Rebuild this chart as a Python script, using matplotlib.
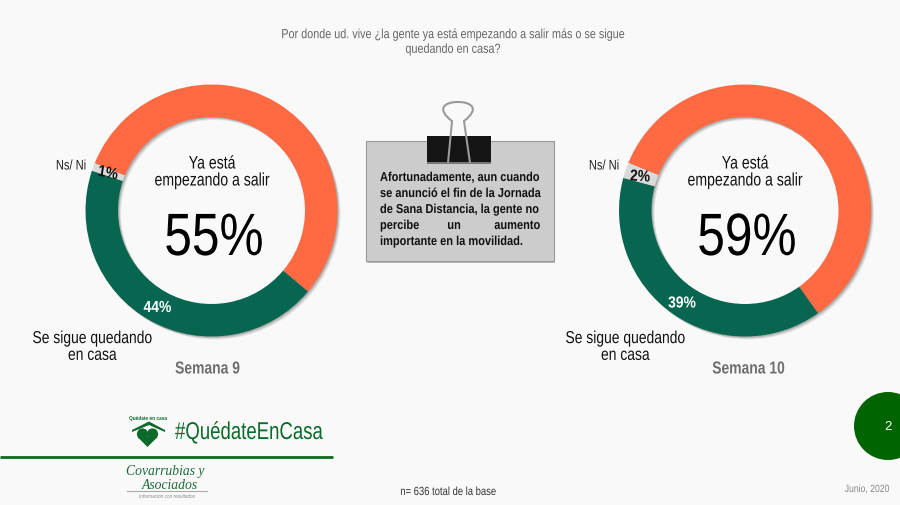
import matplotlib
matplotlib.use('Agg')
import matplotlib.pyplot as plt
from matplotlib.patches import Rectangle, Circle, Polygon, PathPatch
from matplotlib.path import Path
from matplotlib.patheffects import AbstractPathEffect
from matplotlib.transforms import Affine2D

plt.rcParams['font.family'] = ['Liberation Sans', 'DejaVu Sans']

# Data
semana_9 = [55, 44, 1]
semana_10 = [59, 39, 2]
colors = ['#ff6a42', '#06664f', '#dadada']
main_label = 'Ya está\nempezando a salir'
stay_label = 'Se sigue quedando\nen casa'
other_label = 'Ns/ Ni'
question = 'Por donde ud. vive ¿la gente ya está empezando a salir más o se sigue\nquedando en casa?'
note_lines = ['Afortunadamente, aun cuando', 'se anunció el fin de la Jornada',
              'de Sana Distancia, la gente no', 'importante en la movilidad.']

W, H = 900, 506
BG = '#f9f9f9'
fig = plt.figure(figsize=(9, 5.06), dpi=100, facecolor=BG)

# overlay in pixel coordinates of the slide
ov = fig.add_axes([0, 0, 1, 1], zorder=5)
ov.set_xlim(0, W)
ov.set_ylim(H, 0)
ov.axis('off')
ov.patch.set_alpha(0)


# the slide uses a condensed Arial, so squeeze the glyphs around the anchor
class Squeeze(AbstractPathEffect):
    def __init__(self, sx, x0):
        super().__init__()
        self.sx = sx
        self.x0 = x0

    def draw_path(self, renderer, gc, tpath, affine, rgbFace=None):
        squeeze = Affine2D().translate(-self.x0, 0).scale(self.sx, 1).translate(self.x0, 0)
        renderer.draw_path(gc, tpath, affine + squeeze, rgbFace)


def txt(x, y, s, sx=0.8, **kw):
    kw.setdefault('ha', 'center')
    kw.setdefault('va', 'center')
    t = ov.text(x, y, s, **kw)
    t.set_path_effects([Squeeze(sx, ov.transData.transform((x, y))[0])])
    return t


def donut(cx, cy, values, start, text_x, week, week_x):
    r = 126
    pad = 8
    box = r + pad
    ax = fig.add_axes([(cx - box) / W, 1 - (cy + box) / H, 2 * box / W, 2 * box / H], zorder=2)
    # soft shadow below and to the right of the ring
    for off, alpha in [(3.0, 0.12), (2.0, 0.2), (1.0, 0.25)]:
        ax.pie(values, colors=['#555555'] * 3, startangle=start, counterclock=False, radius=1,
               center=(off / r, -off / r), wedgeprops=dict(width=0.258, linewidth=0, alpha=alpha))
    ax.pie(values, colors=colors, startangle=start, counterclock=False, radius=1,
           wedgeprops=dict(width=0.258, linewidth=0))
    ax.set_xlim(-box / r, box / r)
    ax.set_ylim(-box / r, box / r)
    # labels
    txt(text_x - 2, cy - 38, main_label, sx=0.78, fontsize=13, color='#111111', linespacing=1.0)
    txt(text_x, cy + 29, '%d%%' % values[0], sx=0.83, fontsize=43, color='#000000')
    txt(week_x, 370, week, fontsize=12.5, color='#6e6e6e', fontweight='bold')


donut(211.5, 211.5, semana_9, 158, 214, 'Semana 9', 207.5)
donut(745, 211.5, semana_10, 157.8, 747, 'Semana 10', 748.5)

txt(71, 166.5, other_label, fontsize=10, color='#222222')
txt(604, 166.5, other_label, fontsize=10, color='#222222')
txt(108, 174, '1%', sx=0.87, fontsize=11.5, color='#111111', fontweight='bold', rotation=-10)
txt(640, 177.5, '2%', sx=0.87, fontsize=11.5, color='#111111', fontweight='bold', rotation=-3)
txt(157.5, 308.5, '44%', sx=0.87, fontsize=11.5, color='white', fontweight='bold')
txt(682, 304, '39%', sx=0.87, fontsize=11.5, color='white', fontweight='bold')
txt(92.5, 348, stay_label, fontsize=12.5, color='#111111', linespacing=1.15)
txt(625.5, 348, stay_label, fontsize=12.5, color='#111111', linespacing=1.15)

txt(453, 43.5, question, sx=0.82, fontsize=9.5, color='#666666', linespacing=1.3)

# note card
ov.add_patch(Rectangle((367, 143), 188, 121, fc='#888888', ec='none', alpha=0.6))
ov.add_patch(Rectangle((366, 141.5), 188, 120.5, fc='#cccccc', ec='#9a9a9a', lw=0.8))
note_ys = [179, 195, 211, 243]
for s, y in zip(note_lines, note_ys):
    txt(380, y, s, sx=0.855, ha='left', fontsize=9.3, color='#111111', fontweight='bold')
txt(380, 227, 'percibe', sx=0.855, ha='left', fontsize=9.3, color='#111111', fontweight='bold')
txt(454, 227, 'un', sx=0.855, fontsize=9.3, color='#111111', fontweight='bold')
txt(540, 227, 'aumento', sx=0.855, ha='right', fontsize=9.3, color='#111111', fontweight='bold')

# binder clip
ov.add_patch(Rectangle((427, 137), 63.5, 27, fc='#141414', ec='none'))
ov.add_patch(Rectangle((427, 163), 63.5, 2, fc='#777777', ec='none'))
wire = Path([(448, 164), (452, 122), (436, 110), (444, 103), (458, 103), (472, 103), (480, 110),
             (464, 122), (470, 164)],
            [Path.MOVETO, Path.LINETO, Path.CURVE4, Path.CURVE4, Path.CURVE4, Path.CURVE4, Path.CURVE4,
             Path.CURVE4, Path.LINETO])
ov.add_patch(PathPatch(wire, fc='none', ec='#9a9a9a', lw=1.5))

# hashtag block
DG = '#0a6a2a'
txt(175, 434, '#QuédateEnCasa', sx=0.765, ha='left', fontsize=17.5, color=DG)
ov.text(148, 419, 'Quédate en casa', ha='center', va='center', fontsize=3.4, color=DG, fontweight='bold')
ov.add_patch(Polygon([(132, 431), (149, 422.5), (165, 431), (165, 433), (149, 426), (132, 433)], fc=DG, ec='none'))
ov.add_patch(Circle((142.5, 435), 5.6, fc=DG, ec='none'))
ov.add_patch(Circle((152.5, 435), 5.6, fc=DG, ec='none'))
ov.add_patch(Polygon([(137.5, 438), (157.5, 438), (147.5, 448)], fc=DG, ec='none'))
ov.plot([0, 333], [457.5, 457.5], color='#0b6b1e', lw=2, solid_capstyle='butt')

# Covarrubias logo
LG = '#1d6b3c'
ov.text(126, 471.5, 'Covarrubias y', ha='left', va='center', fontsize=9.8, color=LG, family='Liberation Serif', style='italic')
ov.text(142, 485.5, 'Asociados', ha='left', va='center', fontsize=9.8, color=LG, family='Liberation Serif', style='italic')
ov.plot([127, 207], [492, 492], color='#aaaaaa', lw=0.8)
ov.text(167, 497, 'Información con resultados', ha='center', va='center', fontsize=3.3, color='#888888', style='italic')

txt(448, 493, 'n= 636 total de la base', fontsize=8.5, color='#333333')
txt(867, 490, 'Junio, 2020', sx=0.83, fontsize=7.5, color='#888888')

# page badge
ov.add_patch(Circle((888, 427), 34, fc='#006400', ec='none', clip_on=True))
ov.text(888, 427, '2', ha='center', va='center', fontsize=9.5, color='white')

fig.savefig('out.png', dpi=100, facecolor=BG)
